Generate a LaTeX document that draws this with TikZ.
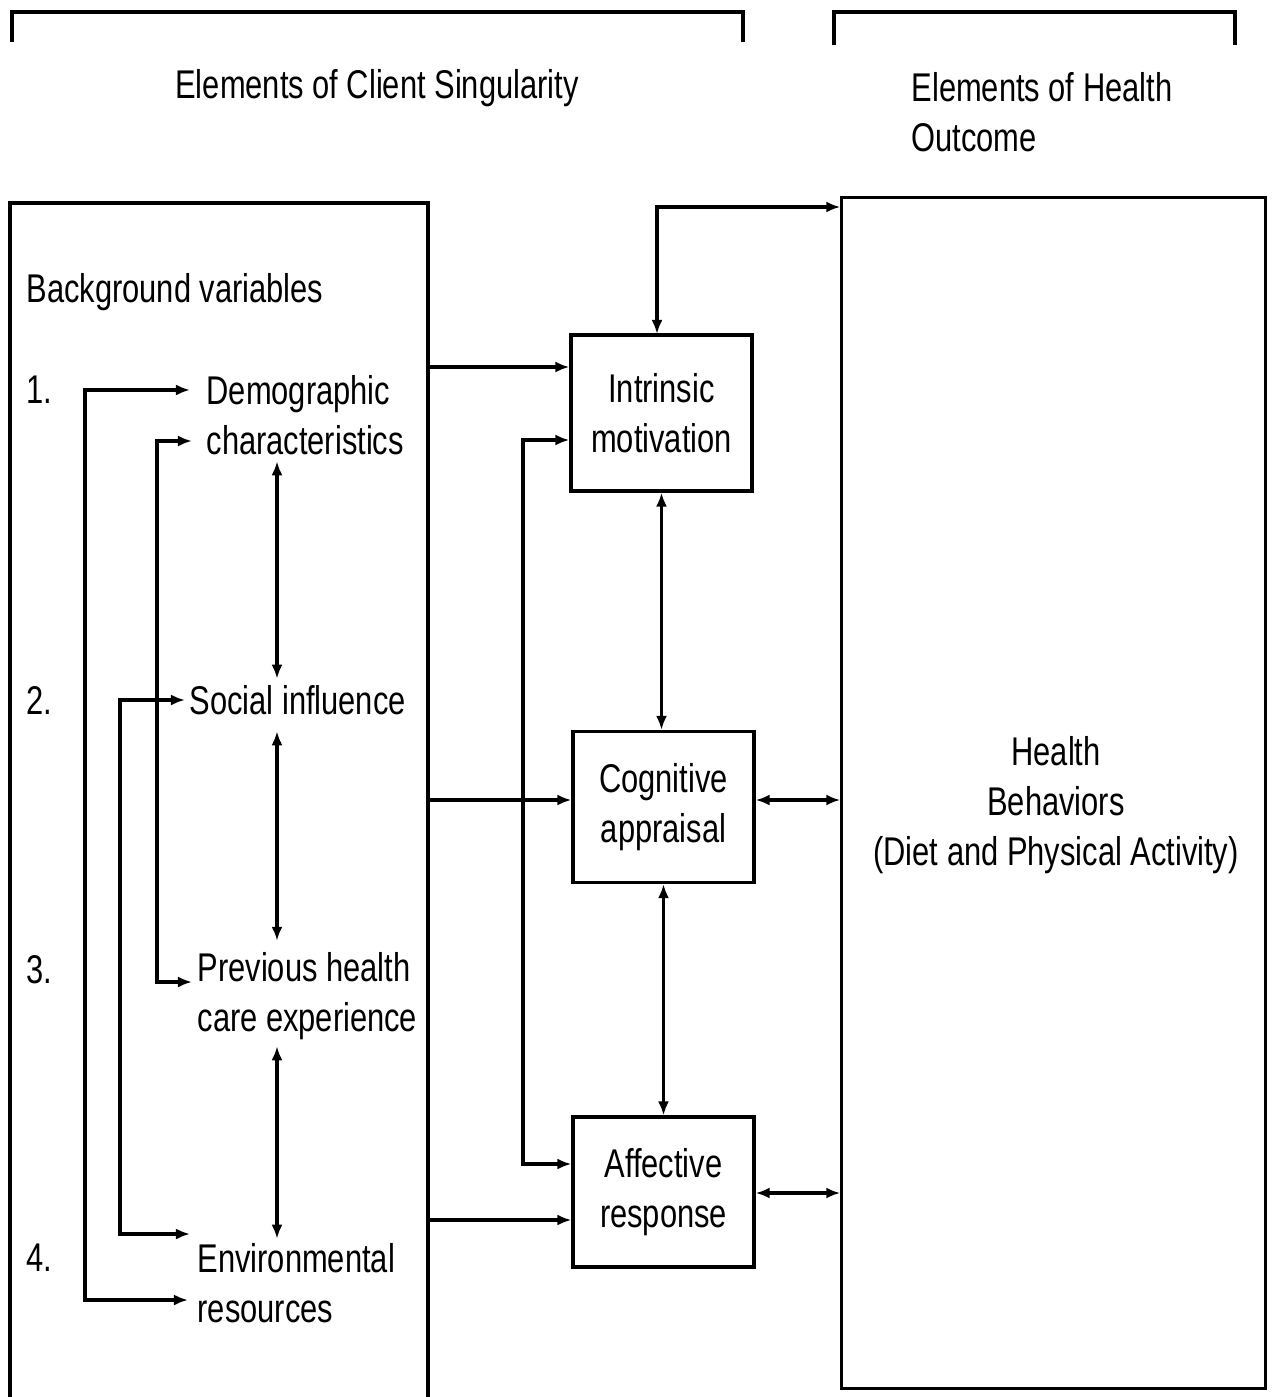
\documentclass[tikz,border=0pt]{standalone}
\usepackage{fontspec}
\setmainfont[FakeStretch=0.77]{Liberation Sans}
\usetikzlibrary{positioning}
\usetikzlibrary{arrows.meta}
\tikzset{>={Latex[length=1.4mm,width=1.1mm]}}
\tikzset{box/.style = {draw, align=center, inner sep = 0}}
\tikzset{lbl/.style = {align=left, anchor=west, inner sep = 0}}

\begin{document}
\begin{tikzpicture}[x=0.01cm, y=-0.01cm, line width=0.9pt,
    every node/.style={font=\fontsize{11.4pt}{14.2pt}\selectfont}]
    \useasboundingbox (0,0) rectangle (1277,1397);

    % Draw brackets and headings
    \draw (12,42) |- (743,12) -- (743,42);
    \draw (834,45) |- (1235,12) -- (1235,45);
    \node (title1) at (377,88) {Elements of Client Singularity};
    \node [lbl] (title2) at (910,112) {Elements of Health\\Outcome};

    % Draw background box (open at the bottom)
    \draw (10,1397) |- (428,203) -- (428,1397);
    \node [lbl] (bgvar) at (25,292) {Background variables};
    \node [lbl] (n1) at (25,390) {1.};
    \node [lbl] (n2) at (25,700) {2.};
    \node [lbl] (n3) at (25,970) {3.};
    \node [lbl] (n4) at (25,1258) {4.};
    \node [lbl] (demo) at (205,415) {Demographic\\characteristics};
    \node [lbl] (social) at (188,700) {Social influence};
    \node [lbl] (prev) at (196,996) {Previous health\\care experience};
    \node [lbl] (env) at (196,1283) {Environmental\\resources};

    \coordinate (axis) at (277,0);
    \draw[<->, shorten <=0.5mm, shorten >=0.5mm] (demo.south -| axis) -- (social.north -| axis);
    \draw[<->, shorten <=1.5mm, shorten >=1mm] (social.south -| axis) -- (prev.north -| axis);
    \draw[<->, shorten <=0.5mm, shorten >=0.3mm] (prev.south -| axis) -- (env.north -| axis);

    \draw[<->, shorten <=1.5mm, shorten >=0.8mm] (demo.west |- 0,390) -| (85,1300) -- (env.west |- 0,1300);
    \draw[<->, shorten <=1.3mm, shorten >=0.4mm] (demo.west |- 0,441) -| (157,982) -- (prev.west |- 0,982);
    \draw[<->, shorten <=0.3mm, shorten >=0.6mm] (social.west) -| (120,1234) -- (env.west |- 0,1234);

    % Draw middle boxes
    \node [box, minimum width=1.81cm, minimum height=1.56cm] (intr) at (661.5,413) {Intrinsic\\motivation};
    \node [box, minimum width=1.81cm, minimum height=1.51cm] (cogn) at (663.5,807) {Cognitive\\appraisal};
    \node [box, minimum width=1.81cm, minimum height=1.50cm] (affe) at (663.5,1192) {Affective\\response};

    % Draw outcome box
    \node [box, minimum width=4.23cm, minimum height=11.90cm] (health) at (1053.5,793) {};
    \node [align=center, inner sep=0] (htext) at (1056,805) {Health\\Behaviors\\(Diet and Physical Activity)};

    \coordinate (bg1) at (428,367);
    \coordinate (bg2) at (428,800);
    \coordinate (bg3) at (428,1220);
    \draw[->] (bg1) -- (intr.west |- bg1);
    \draw[->] (bg2) -- (cogn.west |- bg2);
    \draw[->] (bg3) -- (affe.west |- bg3);
    \draw[<->] (intr.west |- 0,440) -| (523,1164) -- (affe.west |- 0,1164);

    \draw[<->] (657,334) |- (health.west |- 0,207);
    \draw[<->] (intr.south) -- (intr.south |- cogn.north);
    \draw[<->] (cogn.south) -- (cogn.south |- affe.north);
    \draw[<->] (cogn.east |- 0,800) -- (health.west |- 0,800);
    \draw[<->] (affe.east |- 0,1193) -- (health.west |- 0,1193);
  \end{tikzpicture}
\end{document}
